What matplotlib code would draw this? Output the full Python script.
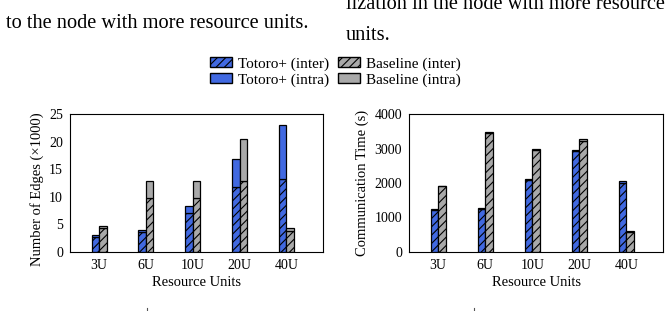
import matplotlib.pyplot as plt
from matplotlib.patches import Patch
from matplotlib.lines import Line2D
import numpy as np

plt.rcParams['font.family'] = ['Liberation Serif', 'DejaVu Serif']
plt.rcParams['hatch.color'] = 'black'
plt.rcParams['hatch.linewidth'] = 0.8

# ---- data ----
categories = ['3U', '6U', '10U', '20U', '40U']

# number of edges (x1000)
edges_totoro_inter = [2.75, 3.6, 7.0, 11.7, 13.3]
edges_totoro_intra = [0.25, 0.4, 1.3, 5.2, 9.7]
edges_base_inter = [4.3, 9.8, 9.8, 12.8, 3.8]
edges_base_intra = [0.45, 3.1, 3.1, 7.6, 0.5]

# communication time (s)
time_totoro_inter = [1230, 1250, 2090, 2930, 1990]
time_totoro_intra = [25, 25, 25, 40, 80]
time_base_inter = [1900, 3440, 2960, 3210, 570]
time_base_intra = [25, 30, 25, 60, 25]

blue = '#4169E1'
gray = '#A9A9A9'
width = 0.16

W, H = 671, 311
fig = plt.figure(figsize=(W / 100, H / 100), dpi=100)

# surrounding paper text (two-column page, the chart spans both)
fig.text(6 / W, 1 - 28 / H, 'to the node with more resource units.',
         fontsize=14.7, va='baseline', ha='left')
fig.text(346 / W, 1 - 9 / H, 'lization in the node with more resource',
         fontsize=14.7, va='baseline', ha='left')
fig.text(346 / W, 1 - 40 / H, 'units.', fontsize=14.7, va='baseline', ha='left')

# tops of the sub-captions, cut off by the bottom edge
for cx in (147, 474):
    fig.add_artist(Line2D([cx / W, cx / W], [0, 3 / H], color='#555555', lw=0.8))

ax1 = fig.add_axes([70 / W, 1 - 252 / H, 253 / W, 138 / H])
ax2 = fig.add_axes([409 / W, 1 - 252 / H, 254 / W, 138 / H])

x = np.arange(len(categories))


def draw(ax, t_inter, t_intra, b_inter, b_intra):
    ax.bar(x - width / 2, t_inter, width, color=blue, edgecolor='black',
           linewidth=0.9, hatch='////')
    ax.bar(x - width / 2, t_intra, width, bottom=t_inter, color=blue,
           edgecolor='black', linewidth=0.9)
    ax.bar(x + width / 2, b_inter, width, color=gray, edgecolor='black',
           linewidth=0.9, hatch='////')
    ax.bar(x + width / 2, b_intra, width, bottom=b_inter, color=gray,
           edgecolor='black', linewidth=0.9)
    ax.set_xticks(x)
    ax.set_xticklabels(categories)
    ax.set_xlim(-0.62, 4.78)
    ax.tick_params(axis='both', length=0, labelsize=10, pad=5)
    ax.set_xlabel('Resource Units', fontsize=10.5, labelpad=3)
    for s in ax.spines.values():
        s.set_linewidth(0.8)


draw(ax1, edges_totoro_inter, edges_totoro_intra, edges_base_inter, edges_base_intra)
ax1.set_ylim(0, 25)
ax1.set_yticks([0, 5, 10, 15, 20, 25])
ax1.set_ylabel('Number of Edges (×1000)', fontsize=10.5)
ax1.yaxis.set_label_coords(-0.103, 0.455)

draw(ax2, time_totoro_inter, time_totoro_intra, time_base_inter, time_base_intra)
ax2.set_ylim(0, 4000)
ax2.set_yticks([0, 1000, 2000, 3000, 4000])
ax2.set_ylabel('Communication Time (s)', fontsize=10.5)
ax2.yaxis.set_label_coords(-0.157, 0.5)

handles = [
    Patch(facecolor=blue, edgecolor='black', hatch='////', label='Totoro+ (inter)'),
    Patch(facecolor=blue, edgecolor='black', label='Totoro+ (intra)'),
    Patch(facecolor=gray, edgecolor='black', hatch='////', label='Baseline (inter)'),
    Patch(facecolor=gray, edgecolor='black', label='Baseline (intra)'),
]
fig.legend(handles=handles, ncol=2, loc='center', bbox_to_anchor=(0.5, 1 - 72 / H),
           frameon=False, fontsize=11, handlelength=1.4, handleheight=0.6,
           handletextpad=0.4, columnspacing=0.6, labelspacing=0.15,
           borderpad=0, borderaxespad=0)

fig.savefig('out.png', dpi=100)
